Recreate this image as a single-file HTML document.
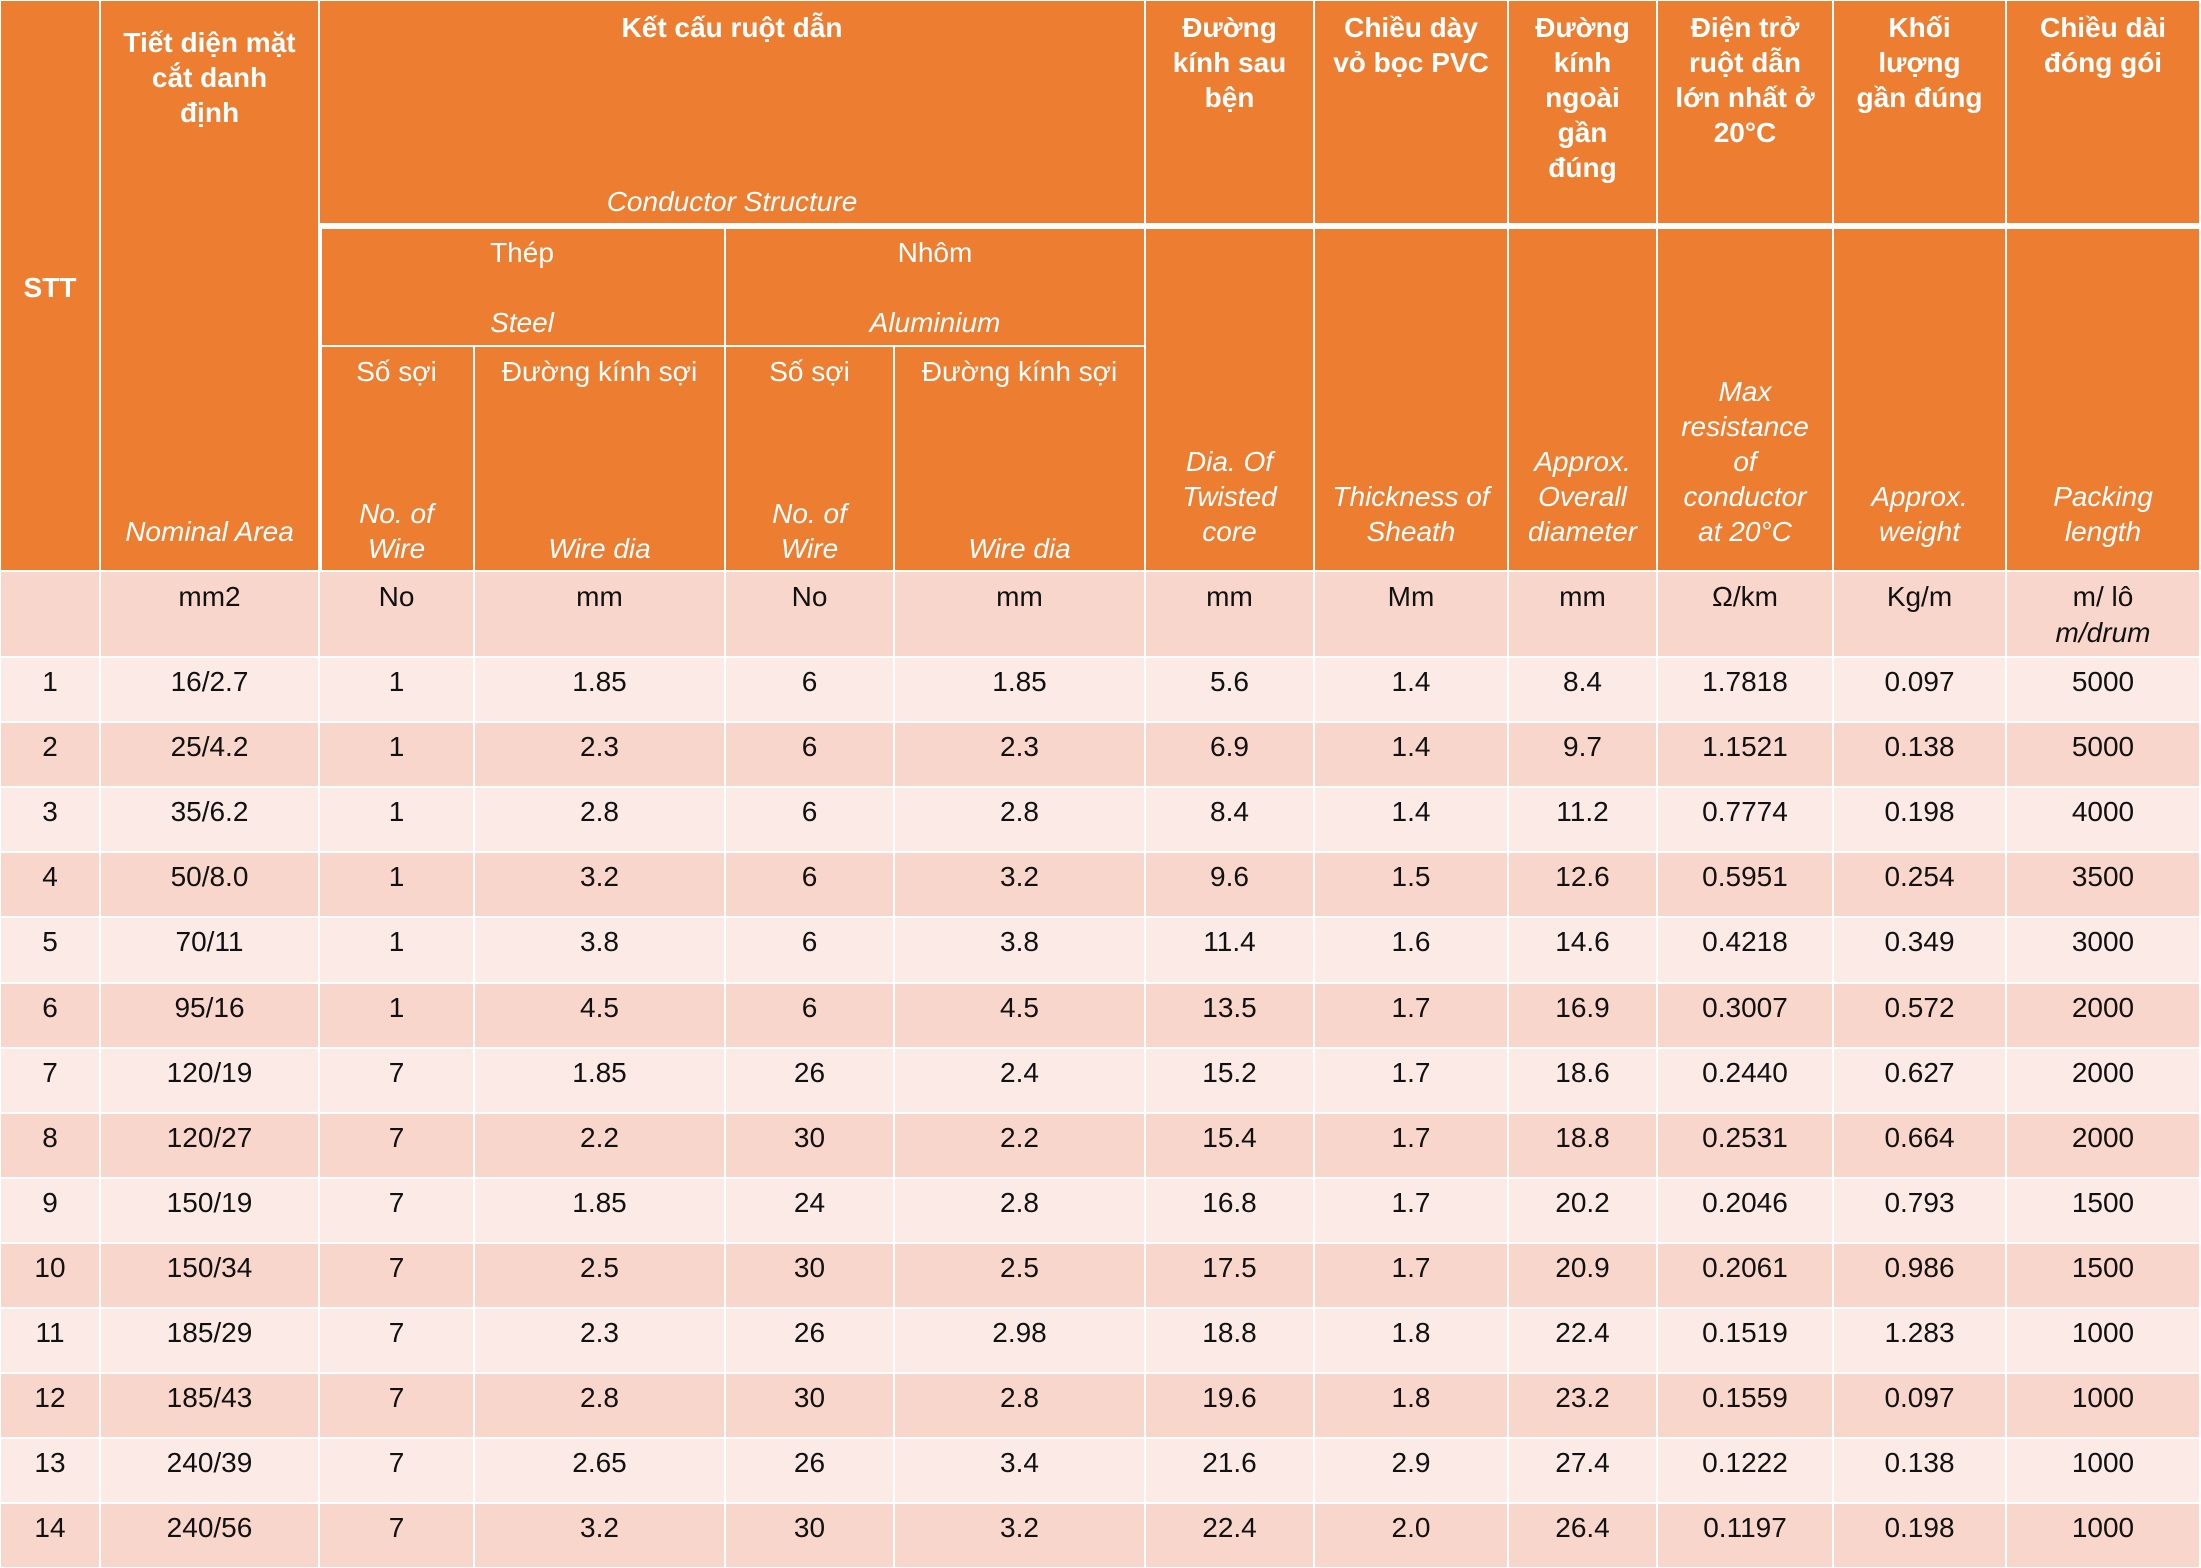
<!DOCTYPE html>
<html><head><meta charset="utf-8">
<style>
html,body{margin:0;padding:0;background:#fff;}
#t{position:relative;width:2201px;height:1568px;overflow:hidden;background:#fff;font-family:"Liberation Sans",Arial,sans-serif;}
.c{position:absolute;box-sizing:border-box;}
.tx{position:absolute;text-align:center;font-size:28px;line-height:35px;white-space:nowrap;}
.h{color:#fff;}
.b{font-weight:bold;}
.i{font-style:italic;}
.d{color:#111;}
</style></head><body>
<div id="t"></div>
<script>
const colX=[0,100,319,474,725,894,1145,1314,1508,1657,1833,2006,2200];
const unitsRow=["","mm2","No","mm","No","mm","mm","Mm","mm","Ω/km","Kg/m","m/ lô"];
const stt=["1","2","3","4","5","6","7","8","9","10","11","12","13","14"];
const area=["16/2.7","25/4.2","35/6.2","50/8.0","70/11","95/16","120/19","120/27","150/19","150/34","185/29","185/43","240/39","240/56"];
const steelNo=["1","1","1","1","1","1","7","7","7","7","7","7","7","7"];
const steelDia=["1.85","2.3","2.8","3.2","3.8","4.5","1.85","2.2","1.85","2.5","2.3","2.8","2.65","3.2"];
const aluNo=["6","6","6","6","6","6","26","30","24","30","26","30","26","30"];
const aluDia=["1.85","2.3","2.8","3.2","3.8","4.5","2.4","2.2","2.8","2.5","2.98","2.8","3.4","3.2"];
const twisted=["5.6","6.9","8.4","9.6","11.4","13.5","15.2","15.4","16.8","17.5","18.8","19.6","21.6","22.4"];
const sheath=["1.4","1.4","1.4","1.5","1.6","1.7","1.7","1.7","1.7","1.7","1.8","1.8","2.9","2.0"];
const overall=["8.4","9.7","11.2","12.6","14.6","16.9","18.6","18.8","20.2","20.9","22.4","23.2","27.4","26.4"];
const resist=["1.7818","1.1521","0.7774","0.5951","0.4218","0.3007","0.2440","0.2531","0.2046","0.2061","0.1519","0.1559","0.1222","0.1197"];
const weight=["0.097","0.138","0.198","0.254","0.349","0.572","0.627","0.664","0.793","0.986","1.283","0.097","0.138","0.198"];
const packing=["5000","5000","4000","3500","3000","2000","2000","2000","1500","1500","1000","1000","1000","1000"];

const T=document.getElementById('t');
const OR='#ED7D31', DARK='#F8D6CB', LIGHT='#FBEAE5';
function cell(x0,x1,y0,y1,bg,name){
  const d=document.createElement('div');
  d.className='c';
  d.style.left=(x0+1)+'px';d.style.top=(y0+1)+'px';
  d.style.width=(x1-x0-2)+'px';d.style.height=(y1-y0-2)+'px';
  d.style.background=bg;
  
  
  T.appendChild(d);
}
function text(x0,x1,cy,lines,cls,name){
  const d=document.createElement('div');
  d.className='tx '+cls;
  d.style.left=x0+'px';d.style.width=(x1-x0)+'px';
  d.style.top=(cy-17.5)+'px';
  d.innerHTML=lines.join('<br>');
  
  
  T.appendChild(d);
}
const X=colX;
cell(X[0],X[1],0,571,OR,'stt-header');
cell(X[1],X[2],0,571,OR,'nominal-area-header');
cell(X[2],X[6],0,224,OR,'conductor-structure-header');
cell(X[2]+2,X[4],228,346,OR,'steel-header');
cell(X[4],X[6],228,346,OR,'aluminium-header');
for(let k=2;k<6;k++){cell(X[k]+(k==2?2:0),X[k+1],346,571,OR,'sub-header-'+k);}
for(let k=6;k<12;k++){cell(X[k],X[k+1],0,224,OR,'col-header-top-'+k);cell(X[k],X[k+1],228,571,OR,'col-header-bottom-'+k);}
text(X[0],X[1],287,['STT'],'h b','stt-title');
text(X[1],X[2],42,['Tiết diện mặt','cắt danh','định'],'h b','nominal-area-title');
text(X[1],X[2],531,['Nominal Area'],'h i','nominal-area-subtitle');
text(X[2],X[6],27,['Kết cấu ruột dẫn'],'h b','conductor-title');
text(X[2],X[6],201,['Conductor Structure'],'h i','conductor-subtitle');
text(X[2],X[4],252,['Thép'],'h','steel-title');
text(X[2],X[4],322,['Steel'],'h i','steel-subtitle');
text(X[4],X[6],252,['Nhôm'],'h','aluminium-title');
text(X[4],X[6],322,['Aluminium'],'h i','aluminium-subtitle');
const subT=['Số sợi','Đường kính sợi','Số sợi','Đường kính sợi'];
const subE=[['No. of','Wire'],['Wire dia'],['No. of','Wire'],['Wire dia']];
for(let k=0;k<4;k++){
  text(X[k+2],X[k+3],371,[subT[k]],'h','sub-title-'+k);
  const e=subE[k];
  text(X[k+2],X[k+3],548-35*(e.length-1),e,'h i','sub-subtitle-'+k);
}
const rT=[['Đường','kính sau','bện'],['Chiều dày','vỏ bọc PVC'],['Đường','kính','ngoài','gần','đúng'],['Điện trở','ruột dẫn','lớn nhất ở','20°C'],['Khối','lượng','gần đúng'],['Chiều dài','đóng gói']];
const rE=[['Dia. Of','Twisted','core'],['Thickness of','Sheath'],['Approx.','Overall','diameter'],['Max','resistance','of','conductor','at 20°C'],['Approx.','weight'],['Packing','length']];
for(let k=0;k<6;k++){
  text(X[k+6],X[k+7],27,rT[k],'h b','col-title-'+k);
  text(X[k+6],X[k+7],531-35*(rE[k].length-1),rE[k],'h i','col-subtitle-'+k);
}
for(let k=0;k<12;k++){cell(X[k],X[k+1],571,657,DARK,'unit-cell-'+k);text(X[k],X[k+1],596,[unitsRow[k]],'d','unit-label-'+k);}
text(X[11],X[12],632,['m/drum'],'d i','unit-label-drum');
const cols=[stt,area,steelNo,steelDia,aluNo,aluDia,twisted,sheath,overall,resist,weight,packing];
const rowH=65.1;
for(let r=0;r<stt.length;r++){
  const y0=Math.round(657+r*rowH), y1=Math.round(657+(r+1)*rowH);
  const bg=r%2==0?LIGHT:DARK;
  for(let k=0;k<12;k++){
    cell(X[k],X[k+1],y0,y1,bg,'row-'+(r+1)+'-cell-'+k);
    text(X[k],X[k+1],y0+24,[cols[k][r]],'d','row-'+(r+1)+'-value-'+k);
  }
}
</script>
</body></html>
